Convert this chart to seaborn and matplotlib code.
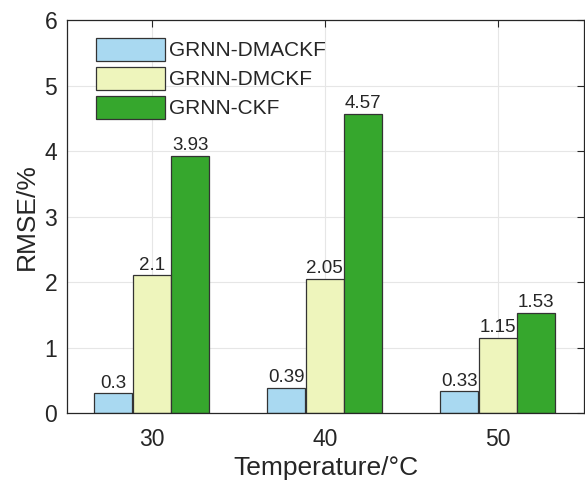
import matplotlib
matplotlib.use('Agg')
import matplotlib.pyplot as plt
import seaborn as sns
import pandas as pd

temps = ['30', '40', '50']
methods = ['GRNN-DMACKF', 'GRNN-DMCKF', 'GRNN-CKF']
rmse_dmackf = [0.3, 0.39, 0.33]
rmse_dmckf = [2.1, 2.05, 1.15]
rmse_ckf = [3.93, 4.57, 1.53]
labels = [['0.3', '0.39', '0.33'], ['2.1', '2.05', '1.15'], ['3.93', '4.57', '1.53']]
colores = ['#A9D9F1', '#EEF5BC', '#36A72D']

sns.set_style('white')
plt.rcParams['font.family'] = ['Liberation Sans', 'DejaVu Sans']

data = pd.DataFrame({
    'temp': temps * 3,
    'metodo': [m for m in methods for _ in temps],
    'rmse': rmse_dmackf + rmse_dmckf + rmse_ckf,
})

fig = plt.figure(figsize=(5.85, 4.82), dpi=100)
ax = fig.add_axes([0.1145, 0.143, 0.884, 0.8155])
sns.barplot(data=data, x='temp', y='rmse', hue='metodo', hue_order=methods,
            palette=colores, width=0.67, gap=0.02, edgecolor='#333333',
            linewidth=0.9, saturation=1, ax=ax, errorbar=None)

for cont, lab in zip(ax.containers, labels):
    ax.bar_label(cont, labels=lab, padding=1, fontsize=13.5)

ax.set_ylim(0, 6)
ax.set_xlim(-0.49, 2.5)
ax.set_yticks(range(7))
ax.grid(True, color='#e6e6e6', linewidth=0.8)
ax.set_axisbelow(True)
for s in ax.spines.values():
    s.set_visible(True)
    s.set_color('#262626')
    s.set_linewidth(0.9)
ax.tick_params(direction='in', top=True, right=True, length=5, labelsize=16.5,
               colors='#262626')
ax.tick_params(axis='x', pad=11)
ax.tick_params(axis='y', pad=7)
ax.set_xlabel('Temperature/°C', fontsize=19, color='#262626', labelpad=3)
ax.set_ylabel('RMSE/%', fontsize=19, color='#262626', labelpad=4)

ax.legend(loc='upper left', bbox_to_anchor=(0.04, 0.975), frameon=False,
          fontsize=15, handlelength=3.3, handleheight=1.3, handletextpad=0.2,
          labelspacing=0.3, borderaxespad=0)

plt.savefig('out.png', dpi=100)
